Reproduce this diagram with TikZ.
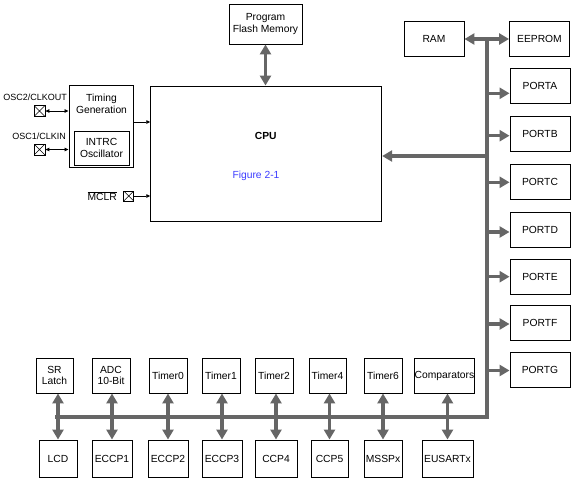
\documentclass[tikz,border=0pt]{standalone}
\usepackage{fontspec}
\setmainfont{Liberation Sans}
\usetikzlibrary{arrows.meta}
\definecolor{busgray}{RGB}{102,102,102}
\definecolor{figblue}{RGB}{60,60,255}
\begin{document}
\begin{tikzpicture}[x=1pt,y=-1pt,
  blk/.style={draw,line width=0.9pt,inner sep=0pt,align=center,font=\fontsize{10.3}{11.5}\selectfont},
  lbl/.style={inner sep=0pt,align=center,font=\fontsize{10.3}{11.5}\selectfont},
  smlbl/.style={inner sep=0pt,font=\fontsize{9}{10}\selectfont},
  bus/.style={draw=busgray,line width=3.5pt},
  busarrow/.style={bus,-{Triangle[length=10pt,width=11pt]}},
  busdbl/.style={bus,{Triangle[length=10pt,width=11pt]}-{Triangle[length=10pt,width=11pt]}},
  thinarrow/.style={line width=0.8pt,-{Triangle[length=4pt,width=3.5pt]}},
  thindbl/.style={line width=0.8pt,{Triangle[length=4pt,width=3.5pt]}-{Triangle[length=4pt,width=3.5pt]}},
  xbox/.style={draw,line width=0.7pt,minimum size=11pt,inner sep=0pt,
    path picture={\draw[line width=0.5pt] (path picture bounding box.north west) -- (path picture bounding box.south east)
      (path picture bounding box.north east) -- (path picture bounding box.south west);}},
  portbox/.style={blk,minimum width=60pt,minimum height=35pt},
  topbox/.style={blk,minimum height=35pt},
  botbox/.style={blk,minimum height=37pt}]
\useasboundingbox (0,0) rectangle (575,480);

% main blocks
\node[blk,minimum width=73pt,minimum height=40pt] (flash) at (265.5,24) {Program\\Flash Memory};
\node[blk,minimum width=231pt,minimum height=135pt] (cpu) at (266.2,153.5) {};
\node[lbl,font=\fontsize{10.3}{11.5}\selectfont\bfseries] (cputxt) at (265.7,136) {CPU};
\node[lbl,text=figblue] (fig) at (256,175.7) {Figure 2-1};

\node[portbox] (ram) at (434,39) {RAM};
\node[portbox] (eeprom) at (539.5,38.5) {EEPROM};
\node[portbox] (pa) at (540,85.5) {PORTA};
\node[portbox] (pb) at (540,133.5) {PORTB};
\node[portbox] (pc) at (540,181.5) {PORTC};
\node[portbox] (pd) at (540,229.5) {PORTD};
\node[portbox] (pe) at (540,276.5) {PORTE};
\node[portbox] (pf) at (540,322.5) {PORTF};
\node[portbox] (pg) at (540,369.5) {PORTG};

% left side
\node[blk,minimum width=64pt,minimum height=82pt] (timing) at (101,126) {};
\node[lbl] (timtxt) at (101.5,104) {Timing\\Generation};
\node[blk,minimum width=55pt,minimum height=34pt] (intrc) at (101.5,148) {INTRC\\Oscillator};
\node[smlbl,anchor=east] (osc2) at (67,97) {OSC2/CLKOUT};
\node[smlbl,anchor=east] (osc1) at (66,136) {OSC1/CLKIN};
\node[xbox] (x2) at (39.5,111) {};
\node[xbox] (x1) at (39.5,149.5) {};
\node[lbl,anchor=east] (mclr) at (117,196) {$\overline{\hbox{MCLR}}$};
\node[xbox,minimum size=10pt] (xm) at (128.7,196) {};

\draw[thindbl] (x2.east) -- (timing.west |- x2.east);
\draw[thindbl] (x1.east) -- (timing.west |- x1.east);
\coordinate (tg) at (133,122);
\draw[thinarrow] (timing.east |- tg) -- (cpu.west |- tg);
\draw[thinarrow] (xm.east) -- (cpu.west |- xm.east);

% bottom rows
\node[topbox,minimum width=37pt] (sr) at (54.5,375.5) {SR\\Latch};
\node[topbox,minimum width=38pt] (adc) at (111,375.5) {ADC\\10-Bit};
\node[topbox,minimum width=38pt] (t0) at (168,375.5) {Timer0};
\node[topbox,minimum width=38pt] (t1) at (221,375.5) {Timer1};
\node[topbox,minimum width=38pt] (t2) at (274,375.5) {Timer2};
\node[topbox,minimum width=37pt] (t4) at (327.5,375.5) {Timer4};
\node[topbox,minimum width=38pt] (t6) at (383,375.5) {Timer6};
\node[topbox,minimum width=59pt] (cmp) at (444.5,375.5) {Comparators};

\node[botbox,minimum width=38pt] (lcd) at (58,458.5) {LCD};
\node[botbox,minimum width=40pt] (e1) at (112,458.5) {ECCP1};
\node[botbox,minimum width=40pt] (e2) at (168,458.5) {ECCP2};
\node[botbox,minimum width=40pt] (e3) at (222,458.5) {ECCP3};
\node[botbox,minimum width=42pt] (c4) at (276,458.5) {CCP4};
\node[botbox,minimum width=37pt] (c5) at (329.5,458.5) {CCP5};
\node[botbox,minimum width=38pt] (ms) at (383,458.5) {MSSPx};
\node[botbox,minimum width=51pt] (eu) at (447.5,458.5) {EUSARTx};

% bus
\coordinate (busTop) at (487,39);
\coordinate (busCorner) at (487,417);
\coordinate (busLeft) at (55,417);
\draw[bus] (busLeft) -- (busCorner) -- (busTop);

\draw[busdbl] (flash.south) -- (flash.south |- cpu.north);
\draw[busdbl] (ram.east) -- (eeprom.west |- ram.east);
\coordinate (bcpu) at (487,156);
\draw[busarrow] (bcpu) -- (cpu.east |- bcpu);

\coordinate (ba) at (487,93.3);
\coordinate (bb) at (487,135.7);
\coordinate (bc) at (487,182.3);
\coordinate (bd) at (487,232);
\coordinate (be) at (487,276.7);
\coordinate (bf) at (487,324);
\coordinate (bg) at (487,370.5);
\draw[busarrow] (ba) -- (pa.west |- ba);
\draw[busarrow] (bb) -- (pb.west |- bb);
\draw[busarrow] (bc) -- (pc.west |- bc);
\draw[busarrow] (bd) -- (pd.west |- bd);
\draw[busarrow] (be) -- (pe.west |- be);
\draw[busarrow] (bf) -- (pf.west |- bf);
\draw[busarrow] (bg) -- (pg.west |- bg);

\draw[busdbl] (lcd.north |- sr.south) -- (lcd.north);
\draw[busdbl] (e1.north |- adc.south) -- (e1.north);
\draw[busdbl] (e2.north |- t0.south) -- (e2.north);
\draw[busdbl] (e3.north |- t1.south) -- (e3.north);
\draw[busdbl] (c4.north |- t2.south) -- (c4.north);
\draw[busdbl] (c5.north |- t4.south) -- (c5.north);
\draw[busdbl] (ms.north |- t6.south) -- (ms.north);
\draw[busdbl] (eu.north |- cmp.south) -- (eu.north);
\end{tikzpicture}
\end{document}
